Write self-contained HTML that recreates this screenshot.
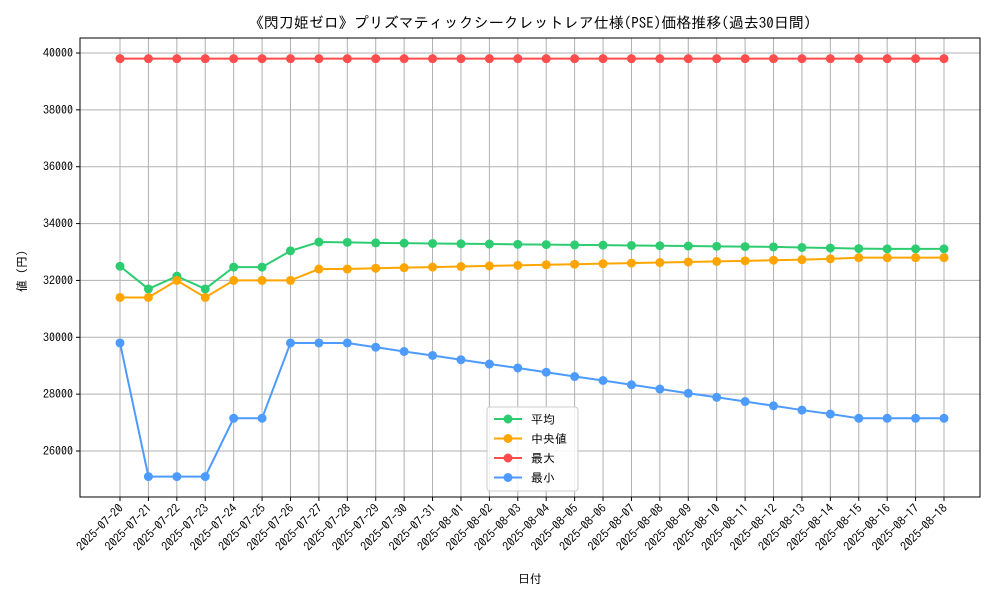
<!DOCTYPE html>
<html><head><meta charset="utf-8"><style>
body{margin:0;background:#fff;}
svg text{font-family:"IPAGothic","Noto Sans CJK JP",sans-serif;fill:#000;}
</style></head><body>
<svg id="chart" width="1000" height="600"></svg>
<script>
const dates=["2025-07-20","2025-07-21","2025-07-22","2025-07-23","2025-07-24","2025-07-25","2025-07-26","2025-07-27","2025-07-28","2025-07-29","2025-07-30","2025-07-31","2025-08-01","2025-08-02","2025-08-03","2025-08-04","2025-08-05","2025-08-06","2025-08-07","2025-08-08","2025-08-09","2025-08-10","2025-08-11","2025-08-12","2025-08-13","2025-08-14","2025-08-15","2025-08-16","2025-08-17","2025-08-18"];
const avgVals=[32500,31700,32150,31700,32470,32470,33040,33350,33340,33320,33310,33300,33290,33280,33270,33260,33250,33240,33230,33220,33210,33200,33190,33180,33160,33140,33120,33110,33110,33110];
const medVals=[31400,31400,32000,31400,32000,32000,32000,32400,32400,32430,32450,32470,32490,32510,32530,32550,32570,32590,32610,32630,32650,32670,32690,32710,32730,32760,32800,32800,32800,32800];
const maxVals=[39800,39800,39800,39800,39800,39800,39800,39800,39800,39800,39800,39800,39800,39800,39800,39800,39800,39800,39800,39800,39800,39800,39800,39800,39800,39800,39800,39800,39800,39800];
const minVals=[29800,25100,25100,25100,27150,27150,29800,29800,29800,29650,29500,29360,29210,29060,28920,28770,28620,28480,28330,28180,28030,27890,27740,27590,27440,27300,27150,27150,27150,27150];
const yTicks=[26000,28000,30000,32000,34000,36000,38000,40000];
const NS="http://www.w3.org/2000/svg";
const svg=document.getElementById('chart');
const L=80,R=980,T=38,B=497;
const x=i=>120+i*(944-120)/(dates.length-1);
const y=v=>53+(40000-v)*398/14000;
function mk(tag,attrs,parent){const e=document.createElementNS(NS,tag);for(const k in attrs)e.setAttribute(k,attrs[k]);(parent||svg).appendChild(e);return e;}
dates.forEach((d,i)=>{
 const g=mk('line',{x1:x(i),x2:x(i),y1:T,y2:B,stroke:'#b0b0b0','stroke-width':1});
 
 
 mk('line',{x1:x(i),x2:x(i),y1:B,y2:B+4,stroke:'#000'});
 const t=mk('text',{x:x(i)+4,y:B+12,'font-size':12,'text-anchor':'end',transform:`rotate(-45 ${x(i)+4} ${B+12})`});
 t.textContent=d;
 
 
});
yTicks.forEach(v=>{
 const g=mk('line',{x1:L,x2:R,y1:y(v),y2:y(v),stroke:'#b0b0b0','stroke-width':1});
 
 
 mk('line',{x1:L-4,x2:L,y1:y(v),y2:y(v),stroke:'#000'});
 const t=mk('text',{x:L-7,y:y(v)+4,'font-size':12,'text-anchor':'end'});
 t.textContent=v;
 
 
});
const frame=mk('rect',{x:L,y:T,width:R-L,height:B-T,fill:'none',stroke:'#000','stroke-width':1});


const series=[["avg",avgVals,'#2ecc71'],["median",medVals,'#ffa500'],["max",maxVals,'#ff4d4d'],["min",minVals,'#4d9bff']];
series.forEach(([n,vals,c])=>{
 const p=mk('polyline',{points:vals.map((v,i)=>x(i)+','+y(v)).join(' '),fill:'none',stroke:c,'stroke-width':2});
 
 
 vals.forEach((v,i)=>{
  const m=mk('circle',{cx:x(i),cy:y(v),r:4.5,fill:c});
  
  
 });
});
const lg=mk('g',{});


mk('rect',{x:487,y:407,width:91,height:84,rx:3,fill:'#fff','fill-opacity':0.85,stroke:'#ccc'},lg);
const labels=["平均","中央値","最大","最小"];
series.forEach(([n,vals,c],k)=>{
 const yy=419+k*19.5;
 mk('line',{x1:494,x2:522,y1:yy,y2:yy,stroke:c,'stroke-width':2},lg);
 mk('circle',{cx:508,cy:yy,r:4.5,fill:c},lg);
 const t=mk('text',{x:531,y:yy+4.5,'font-size':12},lg);
 t.textContent=labels[k];
 
 
});
const title=mk('text',{x:530,y:28,'font-size':15,'text-anchor':'middle'});
title.textContent="《閃刀姫ゼロ》プリズマティックシークレットレア仕様(PSE)価格推移(過去30日間)";


const xl=mk('text',{x:530,y:583,'font-size':12,'text-anchor':'middle'});
xl.textContent="日付";


const yl=mk('text',{x:26,y:268,'font-size':12,'text-anchor':'middle',transform:'rotate(-90 26 268)'});
yl.textContent="値（円）";


</script>
</body></html>
